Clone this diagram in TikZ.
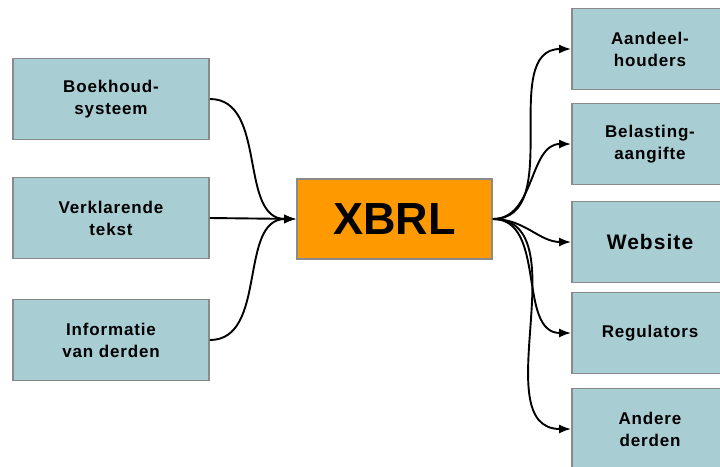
\documentclass[tikz,border=0pt]{standalone}
\usepackage{fontspec}
\setmainfont{Liberation Sans}
\usetikzlibrary{arrows.meta}
\definecolor{boxfill}{HTML}{A8CED4}
\definecolor{boxline}{HTML}{8A8A8A}
\definecolor{hubfill}{HTML}{FF9900}
\newfontfamily\labelfont[LetterSpace=5]{Liberation Sans}
\tikzset{
  srcbox/.style={draw=boxline, line width=1.8pt, fill=boxfill, minimum width=196pt,
    minimum height=81pt, align=center, inner sep=0pt,
    font=\labelfont\fontsize{17}{22}\selectfont\bfseries},
  dstbox/.style={srcbox, minimum width=156pt},
  hubbox/.style={draw=boxline, line width=1.8pt, fill=hubfill, minimum width=195pt,
    minimum height=80pt, inner sep=0pt, font=\fontsize{45}{45}\selectfont\bfseries},
  conn/.style={draw=black, line width=1.9pt, -{Latex[length=12pt,width=9pt]}}
}
\begin{document}
\begin{tikzpicture}[x=1pt,y=-1pt]
\useasboundingbox (0,0) rectangle (720,466);
\begin{scope}
\clip (0,0) rectangle (720,466);
% sources
\node[srcbox] (s1) at (111,99)  {Boekhoud-\\systeem};
\node[srcbox] (s2) at (111,218) {Verklarende\\tekst};
\node[srcbox] (s3) at (111,340) {Informatie\\van derden};
% hub
\node[hubbox] (x) at (394.5,219) {XBRL};
% targets
\node[dstbox] (t1) at (650,49)  {Aandeel-\\houders};
\node[dstbox] (t2) at (650,144) {Belasting-\\aangifte};
\node[dstbox, font=\labelfont\fontsize{21}{25}\selectfont\bfseries] (t3) at (650,242) {Website};
\node[dstbox] (t4) at (650,333) {Regulators};
\node[dstbox] (t5) at (650,429) {Andere\\derden};
% incoming
\draw[conn] (s1.east) to[out=0,in=180] (x.west);
\draw[conn] (s2.east) -- (x.west);
\draw[conn] (s3.east) to[out=0,in=180] (x.west);
% outgoing
\draw[conn] (x.east) to[out=0,in=180] (t1.west);
\draw[conn] (x.east) to[out=0,in=180] (t2.west);
\draw[conn] (x.east) to[out=0,in=180] (t3.west);
\draw[conn] (x.east) to[out=0,in=180] (t4.west);
\draw[conn] (x.east) to[out=0,in=180] (t5.west);
\end{scope}
\end{tikzpicture}
\end{document}
